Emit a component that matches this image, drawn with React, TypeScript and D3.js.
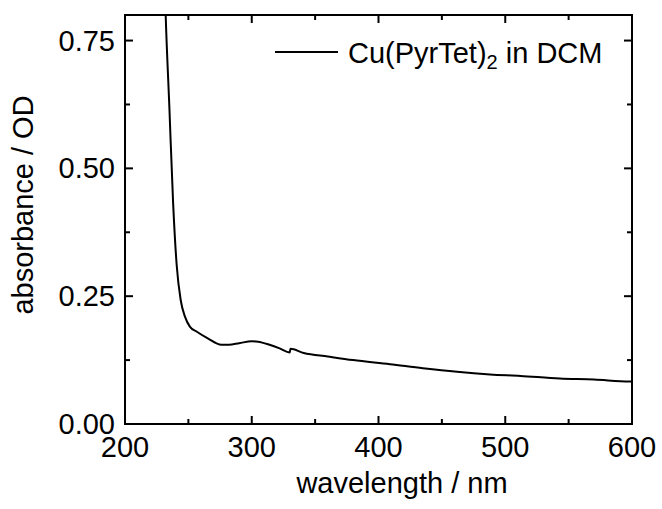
import React from "react";
import * as d3 from "d3";

const wavelengths = [231.5, 232.1, 235, 238, 240.8, 243.9, 247.3, 251.3, 256.4, 265, 276, 282, 290, 300, 305, 314, 322, 330, 330.5, 341, 360, 380, 409, 435, 462, 488, 512, 543, 570, 598, 600];
const absorbance = [0.85, 0.8, 0.62, 0.43, 0.31, 0.243, 0.21, 0.19, 0.181, 0.168, 0.155, 0.155, 0.158, 0.162, 0.161, 0.155, 0.148, 0.14, 0.147, 0.139, 0.132, 0.125, 0.117, 0.109, 0.102, 0.097, 0.094, 0.089, 0.087, 0.083, 0.083];
const xTicks = [200, 300, 400, 500, 600];
const xMinor = [250, 350, 450, 550];
const yTicks = [0, 0.25, 0.5, 0.75];
const yTickLabels = ["0.00", "0.25", "0.50", "0.75"];
const yMinor = [0.125, 0.375, 0.625];

const W = 662, H = 509;
const L = 125, R = 632, T = 15, B = 424;
const FONT = "'Liberation Sans', Arial, sans-serif";
const FS = 29;

export default function App() {
  const x = d3.scaleLinear().domain([200, 600]).range([L, R]);
  const y = d3.scaleLinear().domain([0, 0.8]).range([B, T]);
  const pts = wavelengths.map((w, i) => [w, absorbance[i]] as [number, number]);
  const line = d3.line<[number, number]>().x(d => x(d[0])).y(d => y(d[1])).curve(d3.curveMonotoneX);
  const major = 8, minor = 5;
  return (
    <svg width={W} height={H} style={{ position: "absolute", left: 0, top: 0, background: "#fff" }} fontFamily={FONT}>
      <defs>
        <clipPath id="plot"><rect x={L} y={T} width={R - L} height={B - T} /></clipPath>
      </defs>
      <path d={line(pts) || ""} fill="none" stroke="#000" strokeWidth={2} clipPath="url(#plot)" strokeLinejoin="round" />
      <rect x={L} y={T} width={R - L} height={B - T} fill="none" stroke="#000" strokeWidth={2} />
      {xTicks.map(t => (
        <g key={"xt" + t}>
          <line x1={x(t)} x2={x(t)} y1={B} y2={B - major} stroke="#000" strokeWidth={2} />
          <line x1={x(t)} x2={x(t)} y1={T} y2={T + major} stroke="#000" strokeWidth={2} />
          <text x={x(t)} y={457} textAnchor="middle" fontSize={FS}>{t}</text>
        </g>
      ))}
      {xMinor.map(t => (
        <g key={"xm" + t}>
          <line x1={x(t)} x2={x(t)} y1={B} y2={B - minor} stroke="#000" strokeWidth={2} />
          <line x1={x(t)} x2={x(t)} y1={T} y2={T + minor} stroke="#000" strokeWidth={2} />
        </g>
      ))}
      {yTicks.map((t, i) => (
        <g key={"yt" + t}>
          <line x1={L} x2={L + major} y1={y(t)} y2={y(t)} stroke="#000" strokeWidth={2} />
          <line x1={R} x2={R - major} y1={y(t)} y2={y(t)} stroke="#000" strokeWidth={2} />
          <text x={115} y={y(t) + 10} textAnchor="end" fontSize={FS}>{yTickLabels[i]}</text>
        </g>
      ))}
      {yMinor.map(t => (
        <g key={"ym" + t}>
          <line x1={L} x2={L + minor} y1={y(t)} y2={y(t)} stroke="#000" strokeWidth={2} />
          <line x1={R} x2={R - minor} y1={y(t)} y2={y(t)} stroke="#000" strokeWidth={2} />
        </g>
      ))}
      <text x={402} y={493} textAnchor="middle" fontSize={FS}>wavelength / nm</text>
      <text transform={`translate(33,${205}) rotate(-90)`} textAnchor="middle" fontSize={FS}>absorbance / OD</text>
      <line x1={275} x2={338} y1={52} y2={52} stroke="#000" strokeWidth={2} />
      <text x={348} y={63} fontSize={FS}>
        Cu(PyrTet)<tspan fontSize={20} dy={6}>2</tspan><tspan dy={-6}> in DCM</tspan>
      </text>
    </svg>
  );
}
